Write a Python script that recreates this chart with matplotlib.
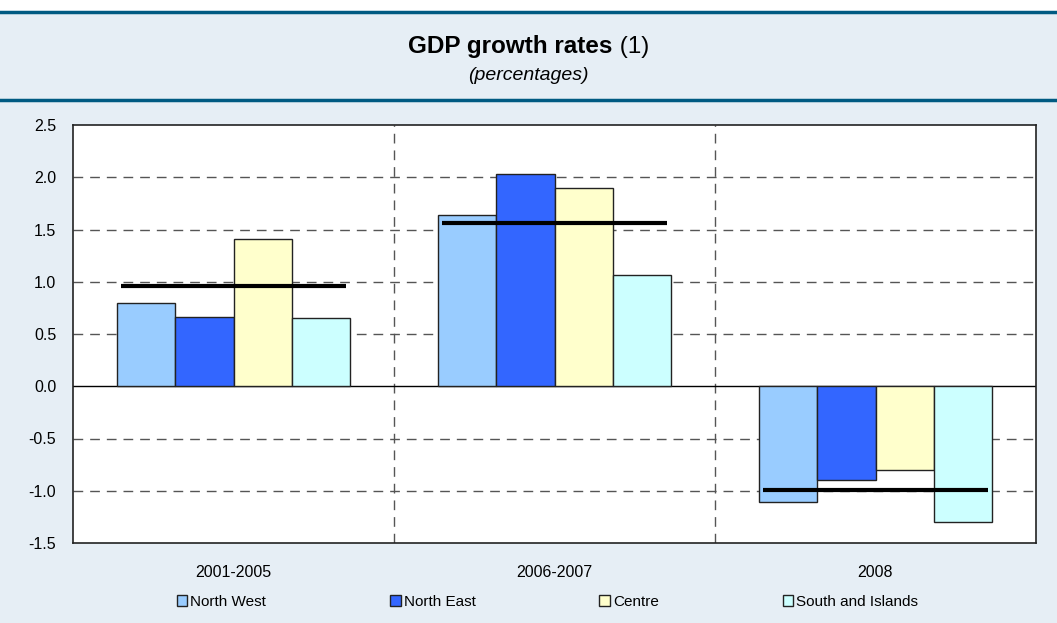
import matplotlib
matplotlib.use("Agg")
import matplotlib.pyplot as plt
from matplotlib.patches import Patch, Rectangle
from matplotlib.lines import Line2D

plt.rcParams['font.family'] = ['Liberation Sans', 'DejaVu Sans']

periods = ["2001-2005", "2006-2007", "2008"]
regions = ["North West", "North East", "Centre", "South and Islands"]
north_west = [0.80, 1.64, -1.11]
north_east = [0.66, 2.03, -0.90]
centre = [1.41, 1.90, -0.80]
south_islands = [0.65, 1.06, -1.30]
italy = [0.96, 1.56, -0.99]

colors = ["#99CCFF", "#3366FF", "#FFFFCC", "#CCFFFF"]
bg = "#E6EEF5"
navy = "#005A82"
W, H = 1057, 623

fig = plt.figure(figsize=(10.57, 6.23), dpi=100, facecolor=bg)

# header: white strip on top, two navy rules
fig.add_artist(Rectangle((0, 1 - 11 / H), 1, 11 / H, transform=fig.transFigure,
                         facecolor="white", edgecolor="none"))
fig.add_artist(Line2D([0, 1], [1 - 12 / H, 1 - 12 / H], color=navy, lw=2.5))
fig.add_artist(Line2D([0, 1], [1 - 100 / H, 1 - 100 / H], color=navy, lw=2.5))

t1 = fig.text(0, 1 - 47 / H, "GDP growth rates", ha="left", va="center",
              fontsize=17.5, fontweight="bold")
t2 = fig.text(0, 1 - 47 / H, " (1)", ha="left", va="center", fontsize=17.5)
r = fig.canvas.get_renderer()
w1 = t1.get_window_extent(r).width
w2 = t2.get_window_extent(r).width
x0 = (W / 2 - (w1 + w2) / 2) / W
t1.set_x(x0)
t2.set_x(x0 + w1 / W)
fig.text(0.5, 1 - 76 / H, "(percentages)", ha="center", va="center", fontsize=14, style="italic")

ax = fig.add_axes([73 / W, 1 - 543 / H, (1036 - 73) / W, (543 - 125) / H])
ax.set_facecolor("white")

series = [north_west, north_east, centre, south_islands]
w = 0.182
x = list(range(len(periods)))
for i, (vals, col) in enumerate(zip(series, colors)):
    off = (i - 1.5) * w
    ax.bar([xi + off for xi in x], vals, width=w, color=col, edgecolor="#222222",
           linewidth=1.0, zorder=3, label=regions[i])

for xi, v in zip(x, italy):
    ax.hlines(v, xi - 0.352, xi + 0.352, color="black", lw=3, zorder=4)

ax.set_xlim(-0.5, 2.5)
ax.set_ylim(-1.5, 2.5)
ax.set_yticks([-1.5, -1.0, -0.5, 0.0, 0.5, 1.0, 1.5, 2.0, 2.5])
ax.set_yticklabels([f"{t:.1f}" for t in ax.get_yticks()])
for y in [-1.0, -0.5, 0.5, 1.0, 1.5, 2.0]:
    ax.axhline(y, color="#555555", lw=1, ls=(0, (7, 5)), zorder=1)
for xv in [0.5, 1.5]:
    ax.axvline(xv, color="#555555", lw=1, ls=(0, (7, 5)), zorder=1)
ax.axhline(0, color="black", lw=1, zorder=2)

ax.set_xticks(x)
ax.set_xticklabels(periods)
ax.tick_params(axis="both", length=0, labelsize=11.5)
ax.tick_params(axis="x", pad=16)
ax.tick_params(axis="y", pad=12)
for s in ax.spines.values():
    s.set_color("#222222")
    s.set_linewidth(1.2)

handles = [Patch(facecolor=c, edgecolor="#222222", label=r) for c, r in zip(colors, regions)]
fig.legend(handles=handles, loc="center", bbox_to_anchor=(0.518, 1 - 602 / H), ncol=4,
           frameon=False, fontsize=11, handlelength=0.7, handleheight=0.7,
           handletextpad=0.2, columnspacing=8.1)

fig.savefig("out.png", dpi=100, facecolor=bg)
